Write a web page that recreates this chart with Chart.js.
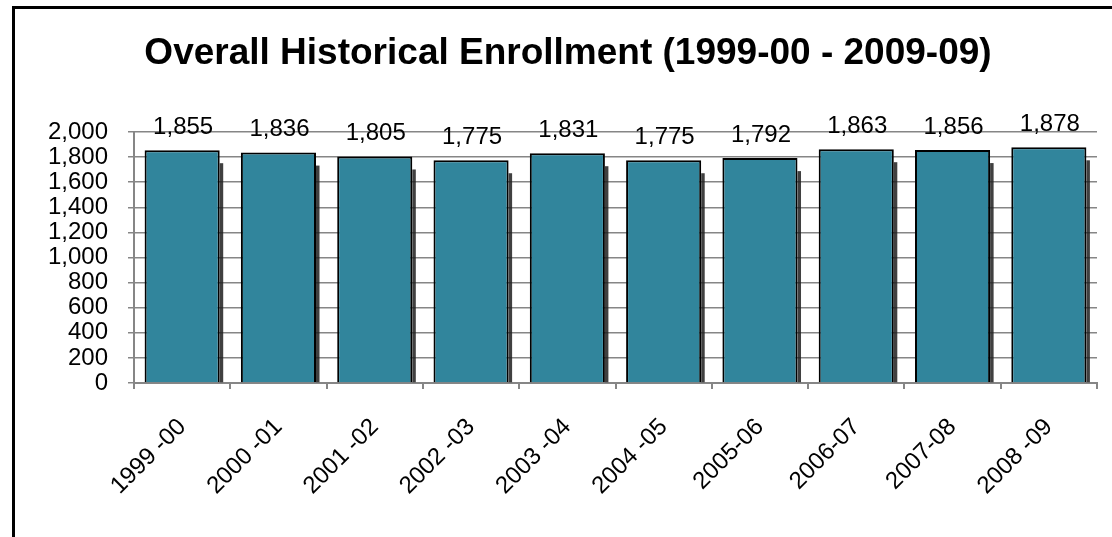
<!DOCTYPE html>
<html>
<head>
<meta charset="utf-8">
<script src="https://cdn.jsdelivr.net/npm/chart.js@4"></script>
<style>
  body { margin: 0; background: #fff; overflow: hidden; }
  .wrap { position: relative; width: 1112px; height: 537px; overflow: hidden; }
  .frame { position: absolute; left: 12px; top: 6px; width: 1200px; height: 700px;
           border-left: 3px solid #000; border-top: 3px solid #000; }
  canvas { position: absolute; left: 0; top: 0; }
</style>
</head>
<body>
<div class="wrap">
  <div class="frame"></div>
  <canvas id="enrollChart" width="1112" height="537"></canvas>
</div>
<script>
const years = ['1999 -00', '2000 -01', '2001 -02', '2002 -03', '2003 -04',
               '2004 -05', '2005-06', '2006-07', '2007-08', '2008 -09']
const enrollment = [1855, 1836, 1805, 1775, 1831, 1775, 1792, 1863, 1856, 1878]
const yTicks = [0, 200, 400, 600, 800, 1000, 1200, 1400, 1600, 1800, 2000]

const font = 'Liberation Sans, Arial, sans-serif'
const axisGray = '#868686'

// dark strip on the right of every bar (bar element clips canvas shadows)
const barShadow = {
    id: 'barShadow',
    beforeDatasetsDraw(chart) {
        const ctx = chart.ctx
        const meta = chart.getDatasetMeta(0)
        ctx.save()
        ctx.fillStyle = 'rgba(30,30,30,0.85)'
        meta.data.forEach(bar => {
            const right = bar.x + bar.width / 2
            ctx.fillRect(right, bar.y + 13, 3.5, bar.base - bar.y - 13)
        })
        ctx.restore()
    }
}

// value labels above each bar
const valueLabels = {
    id: 'valueLabels',
    afterDatasetsDraw(chart) {
        const ctx = chart.ctx
        const meta = chart.getDatasetMeta(0)
        ctx.save()
        ctx.font = '24px ' + font
        ctx.fillStyle = '#000'
        ctx.textAlign = 'center'
        ctx.textBaseline = 'middle'
        meta.data.forEach((bar, i) => {
            ctx.fillText(enrollment[i].toLocaleString('en-US'), bar.x + 1, bar.y - 23)
        })
        ctx.restore()
    }
}

new Chart(document.getElementById('enrollChart'), {
    type: 'bar',
    data: {
        labels: years,
        datasets: [{
            data: enrollment,
            backgroundColor: '#31859C',
            borderColor: '#000',
            borderWidth: 2,
            borderSkipped: 'bottom',
            categoryPercentage: 1,
            barPercentage: 0.78
        }]
    },
    options: {
        responsive: false,
        animation: false,
        events: [],
        layout: { padding: { left: 39, right: 15, top: 0, bottom: 0 } },
        scales: {
            y: {
                min: 0,
                max: 2000,
                afterBuildTicks: scale => { scale.ticks = yTicks.map(v => ({ value: v })) },
                afterFit: scale => { scale.width = 95 },
                border: { color: axisGray, width: 2 },
                grid: { color: axisGray, lineWidth: 1.5, tickLength: 6 },
                ticks: {
                    autoSkip: false,
                    padding: 20,
                    color: '#000',
                    font: { family: font, size: 24 },
                    callback: v => v.toLocaleString('en-US')
                }
            },
            x: {
                afterFit: scale => { scale.height = 154 },
                border: { color: axisGray, width: 2 },
                grid: { drawOnChartArea: false, color: axisGray, lineWidth: 2, tickLength: 6, offset: true },
                ticks: {
                    minRotation: 45,
                    maxRotation: 45,
                    autoSkip: false,
                    padding: 24,
                    color: '#000',
                    font: { family: font, size: 24 }
                }
            }
        },
        plugins: {
            legend: { display: false },
            tooltip: { enabled: false },
            title: {
                display: true,
                text: 'Overall Historical Enrollment (1999-00 - 2009-09)',
                color: '#000',
                font: { family: font, size: 37, weight: 'bold', lineHeight: 1.2 },
                padding: { top: 32, bottom: 55.6 }
            }
        }
    },
    plugins: [barShadow, valueLabels]
})
</script>
</body>
</html>
